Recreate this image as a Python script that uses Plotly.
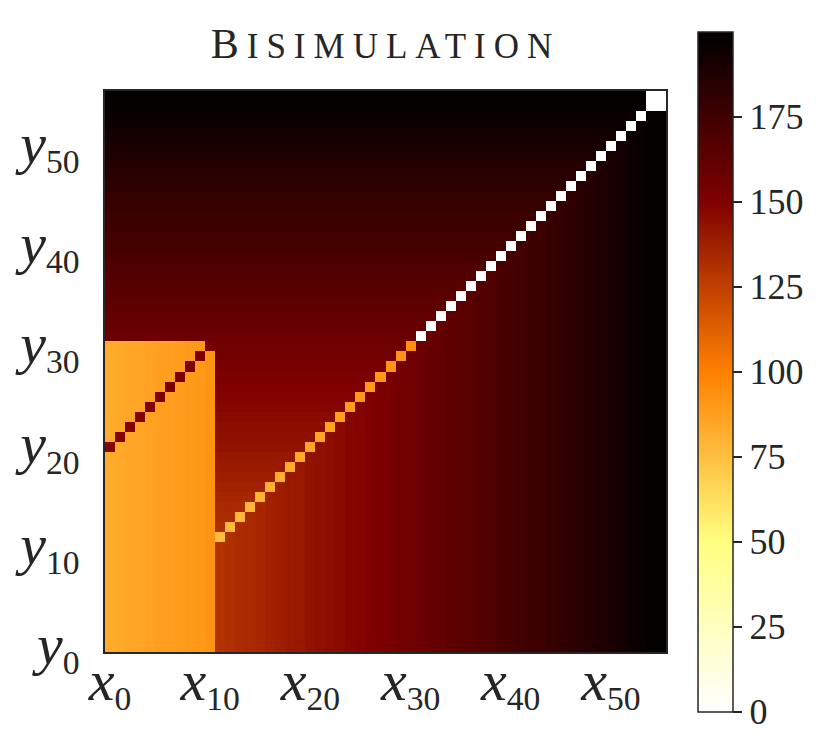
import numpy as np
import plotly.graph_objects as go

N_STATES = 56

# distance as a function of max(i, j) for states 11..55 (background gradient)
far_dist = [130, 131, 133, 134, 135, 137, 138, 140, 141, 143,
            144, 145, 146, 148, 149, 150, 152, 153, 155, 157,
            158, 160, 161, 163, 165, 166, 168, 169, 171, 173,
            174, 176, 177, 179, 180, 182, 184, 186, 188, 190,
            192, 194, 196, 198, 199]
# orange block: x0..x10 against y0..y30, varies with x
block_dist = [83, 84, 85, 86, 87, 88, 88, 89, 90, 91, 92]
# shifted diagonal d(x_i, y_{i+20}) for i = 0..10
shift_diag = [148, 148, 149, 149, 150, 150, 151, 151, 152, 152, 153]
# main diagonal d(x_i, y_i) for i = 11..55
diag_dist = [76, 77, 78, 79, 80, 81, 82, 83, 84, 85,
             86, 87, 88, 89, 90, 90, 91, 92, 93, 94,
             0, 0, 0, 0, 0, 0, 0, 0, 0, 0,
             0, 0, 0, 0, 0, 0, 0, 0, 0, 0,
             0, 0, 0, 0, 0]
# extra zero pairs in the top-right corner
corner_pairs = [(54, 55), (55, 54)]

tick_idx = [0, 10, 20, 30, 40, 50]
LETTER = "<span style='font-size:58px'><i>%s</i></span><sub>%d</sub>"
x_ticktext = [LETTER % ("x", t) for t in tick_idx]
y_ticktext = [LETTER % ("y", t) for t in tick_idx]
cbar_ticks = [0, 25, 50, 75, 100, 125, 150, 175]

# build the matrix z[y][x]
z = np.zeros((N_STATES, N_STATES))
for yi in range(N_STATES):
    for xi in range(N_STATES):
        m = max(xi, yi)
        z[yi, xi] = far_dist[m - 11] if m >= 11 else block_dist[xi]
for xi in range(11):
    for yi in range(31):
        z[yi, xi] = block_dist[xi]
for i, v in enumerate(shift_diag):
    z[i + 20, i] = v
for i, v in enumerate(diag_dist):
    z[i + 11, i + 11] = v
for xi, yi in corner_pairs:
    z[yi, xi] = 0

# afmhot reversed
afmhot_r = [
    [0.0, "#ffffff"],
    [0.25, "#ffff80"],
    [0.5, "#ff8000"],
    [0.75, "#800000"],
    [1.0, "#000000"],
]

FONT = "Liberation Serif"
INK = "#262626"

title_text = ("<span style='font-size:42px;letter-spacing:8px'>B</span>"
              "<span style='font-size:35px;letter-spacing:8px'>ISIMULATION</span>")

fig = go.Figure(
    go.Heatmap(
        z=z,
        x=list(range(N_STATES)),
        y=list(range(N_STATES)),
        colorscale=afmhot_r,
        zmin=0,
        zmax=200,
        colorbar=dict(
            x=1.057,
            xanchor="left",
            xpad=0,
            y=0.5,
            yanchor="middle",
            ypad=0,
            len=680,
            lenmode="pixels",
            thickness=35,
            outlinewidth=1.5,
            outlinecolor=INK,
            tickvals=cbar_ticks,
            ticks="outside",
            ticklen=9,
            tickwidth=1.5,
            tickcolor=INK,
            tickfont=dict(family=FONT, size=36, color=INK),
        ),
    )
)

fig.update_layout(
    width=830,
    height=753,
    paper_bgcolor="white",
    plot_bgcolor="white",
    margin=dict(l=97, r=172, t=83, b=109),
    title=dict(
        text=title_text,
        x=0.5,
        xref="paper",
        xanchor="center",
        y=1,
        yref="paper",
        yanchor="bottom",
        pad=dict(b=33),
        font=dict(family=FONT, size=36, color=INK),
    ),
    xaxis=dict(
        range=[-0.5, N_STATES - 0.5],
        tickvals=tick_idx,
        ticktext=x_ticktext,
        tickfont=dict(family=FONT, size=48, color=INK),
        showgrid=False,
        zeroline=False,
        showline=True,
        mirror=True,
        linewidth=1.8,
        linecolor=INK,
        ticks="",
        ticklabelstandoff=-12,
        automargin=False,
    ),
    yaxis=dict(
        range=[-0.5, N_STATES - 0.5],
        tickvals=tick_idx,
        ticktext=y_ticktext,
        tickfont=dict(family=FONT, size=48, color=INK),
        showgrid=False,
        zeroline=False,
        showline=True,
        mirror=True,
        linewidth=1.8,
        linecolor=INK,
        ticks="",
        ticklabelstandoff=14,
        automargin=False,
    ),
)

fig.write_html("out.html")
